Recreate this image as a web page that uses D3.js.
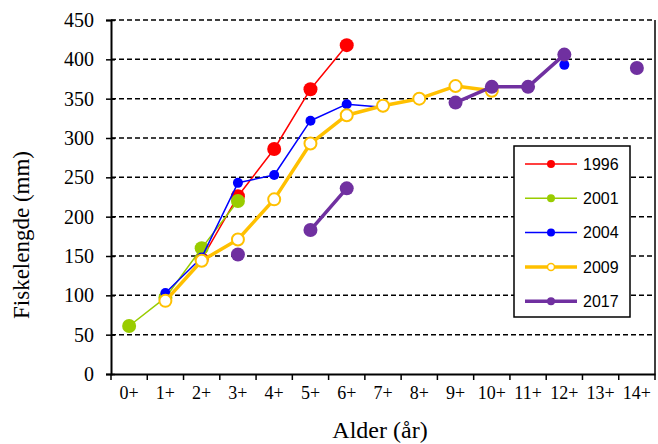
<!DOCTYPE html>
<html>
<head>
<meta charset="utf-8">
<script src="https://cdn.jsdelivr.net/npm/d3@7"></script>
<style>
  body { margin: 0; background: #fff; }
  svg { display: block; }
</style>
</head>
<body>
<svg id="chart" width="658" height="444"></svg>
<script>
// ages on the x axis
const ages = ["0+", "1+", "2+", "3+", "4+", "5+", "6+", "7+", "8+", "9+", "10+", "11+", "12+", "13+", "14+"];
const yTicks = [0, 50, 100, 150, 200, 250, 300, 350, 400, 450];

// fish length (mm) per age, null = no data
const s1996 = [null, null, 146, 226, 286, 362, 418, null, null, null, null, null, null, null, null];
const s2001 = [61, 97, 160, 220, null, null, null, null, null, null, null, null, null, null, null];
const s2004 = [null, 103, 148, 243, 253, 322, 343, 339, null, null, null, null, 393, null, null];
const s2009 = [null, 93, 144, 171, 222, 293, 329, 341, 350, 366, 360, null, null, null, null];
const s2017 = [null, null, null, 152, null, 183, 236, null, null, 345, 365, 365, 406, null, 389];

const series = [
  { name: "1996", values: s1996, color: "#ff0000", width: 1.5, r: 7, open: false },
  { name: "2001", values: s2001, color: "#99cc00", width: 1.5, r: 7, open: false },
  { name: "2004", values: s2004, color: "#0000ff", width: 1.5, r: 5, open: false },
  { name: "2009", values: s2009, color: "#ffc000", width: 3.5, r: 7, open: true },
  { name: "2017", values: s2017, color: "#7030a0", width: 3.5, r: 7, open: false }
];

const serif = "Liberation Serif, Times New Roman, serif";
const svg = d3.select("#chart");
const pLeft = 111, pRight = 655, pTop = 20, pBottom = 374;

const x = d3.scaleBand().domain(ages).range([pLeft, pRight]);
const y = d3.scaleLinear().domain([0, 450]).range([pBottom, pTop]);
const cx = d => x(d) + x.bandwidth() / 2;

// dashed grid
svg.append("g").selectAll("line")
  .data(yTicks.filter(d => d > 0))
  .join("line")
  .attr("x1", pLeft).attr("x2", pRight)
  .attr("y1", d => y(d)).attr("y2", d => y(d))
  .attr("stroke", "#000").attr("stroke-width", 1.5)
  .attr("stroke-dasharray", "5,3");

// right border
svg.append("line")
  .attr("x1", pRight).attr("x2", pRight).attr("y1", pTop).attr("y2", pBottom)
  .attr("stroke", "#000").attr("stroke-width", 1.5);

// y axis
const yAxis = svg.append("g")
  .attr("transform", `translate(${pLeft},0)`)
  .call(d3.axisLeft(y).tickValues(yTicks).tickSize(5).tickPadding(12))
  .attr("font-family", serif)
  .attr("font-size", 20);
yAxis.select(".domain").attr("stroke-width", 2);
yAxis.selectAll(".tick line").attr("x2", 4).attr("x1", -5).attr("stroke-width", 1.5);

// x axis, ticks at band edges
const xAxis = svg.append("g")
  .attr("transform", `translate(0,${pBottom})`)
  .call(d3.axisBottom(x).tickSize(0).tickPadding(12))
  .attr("font-family", serif)
  .attr("font-size", 18);
xAxis.select(".domain").attr("stroke-width", 2);
xAxis.selectAll(".edge")
  .data(d3.range(ages.length + 1))
  .join("line")
  .attr("class", "edge")
  .attr("x1", i => pLeft + i * x.step()).attr("x2", i => pLeft + i * x.step())
  .attr("y1", 0).attr("y2", 6)
  .attr("stroke", "#000").attr("stroke-width", 1.5);

// series
const line = d3.line()
  .defined(d => d.v != null)
  .x(d => cx(d.age))
  .y(d => y(d.v));

series.forEach(s => {
  const pts = s.values.map((v, i) => ({ age: ages[i], v }));
  const g = svg.append("g");
  g.append("path")
    .datum(pts)
    .attr("fill", "none")
    .attr("stroke", s.color)
    .attr("stroke-width", s.width)
    .attr("stroke-linejoin", "round")
    .attr("d", line);
  g.selectAll("circle")
    .data(pts.filter(d => d.v != null))
    .join("circle")
    .attr("cx", d => cx(d.age))
    .attr("cy", d => y(d.v))
    .attr("r", s.open ? s.r - 1 : s.r)
    .attr("fill", s.open ? "#fff" : s.color)
    .attr("stroke", s.color)
    .attr("stroke-width", s.open ? 2 : 0);
});

// legend
const lg = svg.append("g");
lg.append("rect")
  .attr("x", 514).attr("y", 146).attr("width", 116).attr("height", 171)
  .attr("fill", "#fff").attr("stroke", "#000").attr("stroke-width", 1.5);
series.forEach((s, i) => {
  const ly = 164 + i * 34.3;
  lg.append("line")
    .attr("x1", 525).attr("x2", 577).attr("y1", ly).attr("y2", ly)
    .attr("stroke", s.color).attr("stroke-width", s.width);
  lg.append("circle")
    .attr("cx", 551).attr("cy", ly).attr("r", s.open ? 3.5 : 4)
    .attr("fill", s.open ? "#fff" : s.color)
    .attr("stroke", s.color).attr("stroke-width", s.open ? 1.5 : 0);
  lg.append("text")
    .attr("x", 583).attr("y", ly).attr("dy", "0.35em")
    .attr("font-family", "Liberation Sans, Arial, sans-serif")
    .attr("font-size", 16)
    .text(s.name);
});

// axis titles
svg.append("text")
  .attr("transform", "translate(29,235) rotate(-90)")
  .attr("text-anchor", "middle")
  .attr("font-family", serif)
  .attr("font-size", 23)
  .text("Fiskelengde (mm)");
svg.append("text")
  .attr("x", 380).attr("y", 438)
  .attr("text-anchor", "middle")
  .attr("font-family", serif)
  .attr("font-size", 24)
  .text("Alder (år)");
</script>
</body>
</html>
